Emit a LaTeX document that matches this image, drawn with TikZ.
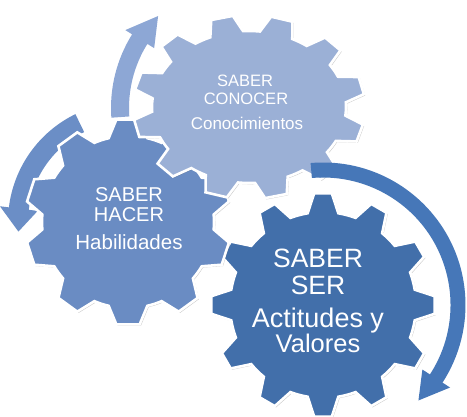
\documentclass[tikz,border=0pt]{standalone}
\usepackage{fontspec}
\setmainfont{Liberation Sans}
\usetikzlibrary{shadows}
\definecolor{gearTop}{HTML}{9BB0D6}
\definecolor{gearLeft}{HTML}{6A8CC3}
\definecolor{gearBig}{HTML}{426FAA}
\definecolor{arrTop}{HTML}{8DA7D5}
\definecolor{arrLeft}{HTML}{6B8EC6}
\definecolor{arrBig}{HTML}{4677B8}
\tikzset{
  gearbody/.style={fill=#1, draw=white, line width=2.6pt, line join=miter,
    drop shadow={shadow xshift=1.3pt, shadow yshift=-1.3pt, opacity=0.3, fill=black!70}},
  lbl/.style={text=white, inner sep=0pt, anchor=base},
}
\newcommand{\GearHalf}[2]{\def\Ghb{#1}\def\Ght{#2}}
% #1 fill, #2 cx, #3 cy, #4 N, #5 rox, #6 roy, #7 rix, #8 riy, #9 offset
\newcommand{\gearshape}[9]{%
  \pgfmathsetmacro{\Gstep}{360/#4}%
  \pgfmathtruncatemacro{\Glast}{#4-1}%
  \begin{scope}[shift={(#2,#3)}]
  \draw[gearbody=#1] (#9-\Ghb:#7 and #8)
    \foreach \i [evaluate=\i as \c using #9+\i*\Gstep] in {0,...,\Glast} {
      -- (\c-\Ght:#5 and #6) -- (\c+\Ght:#5 and #6) -- (\c+\Ghb:#7 and #8)
      arc[start angle=\c+\Ghb, end angle=\c+\Gstep-\Ghb, x radius=#7, y radius=#8]
    } -- cycle;
  \end{scope}}
% #1 colour, #2 cx, #3 cy, #4 r, #5 half width, #6 head half width, #7 start, #8 head base, #9 tip
\newcommand{\bentarrow}[9]{%
  \begin{scope}[shift={(#2,#3)}]
  \fill[#1] (#7:#4+#5) arc[start angle=#7, end angle=#8, radius=#4+#5]
    -- (#8:#4+#6) -- (#9:#4) -- (#8:#4-#6) -- (#8:#4-#5)
    arc[start angle=#8, end angle=#7, radius=#4-#5] -- cycle;
  \end{scope}}
\begin{document}
\begin{tikzpicture}[x=1pt, y=-1pt]
\useasboundingbox[fill=white] (0,0) rectangle (467,417);

% curved arrows behind the gears
\bentarrow{arrLeft}{128}{222}{110}{10}{19}{244}{187}{175}
\bentarrow{arrTop}{250}{108}{130}{9}{17}{176}{212}{225}

% gears
\GearHalf{9.5}{4.5}
\gearshape{gearBig}{323}{305}{12}{112}{112}{93}{93}{270}
\GearHalf{13}{6.5}
\gearshape{gearLeft}{128}{222}{10}{103}{103}{86}{86}{270}
\GearHalf{10}{5.5}
\gearshape{gearTop}{249}{107}{12}{116}{92}{97}{76}{256.5}

% curved arrow round the large gear
\bentarrow{arrBig}{323}{305}{135}{7.5}{16.5}{265}{393}{405}

% labels
\node[lbl, font=\fontsize{16.5}{16.5}\selectfont] (tA) at (245,87) {SABER};
\node[lbl, font=\fontsize{16.5}{16.5}\selectfont] (tB) at (246,105) {CONOCER};
\node[lbl, font=\fontsize{17}{17}\selectfont] (tC) at (247,130) {Conocimientos};

\node[lbl, font=\fontsize{20}{20}\selectfont] (lA) at (129,202) {SABER};
\node[lbl, font=\fontsize{20}{20}\selectfont] (lB) at (129,222) {HACER};
\node[lbl, font=\fontsize{20.5}{20.5}\selectfont] (lC) at (129,250) {Habilidades};

\node[lbl, font=\fontsize{26.5}{26.5}\selectfont] (bA) at (318,268) {SABER};
\node[lbl, font=\fontsize{26.5}{26.5}\selectfont] (bB) at (318,295) {SER};
\node[lbl, font=\fontsize{27}{27}\selectfont] (bC) at (318,328) {Actitudes y};
\node[lbl, font=\fontsize{25.5}{25.5}\selectfont] (bD) at (318,353) {Valores};
\end{tikzpicture}
\end{document}
